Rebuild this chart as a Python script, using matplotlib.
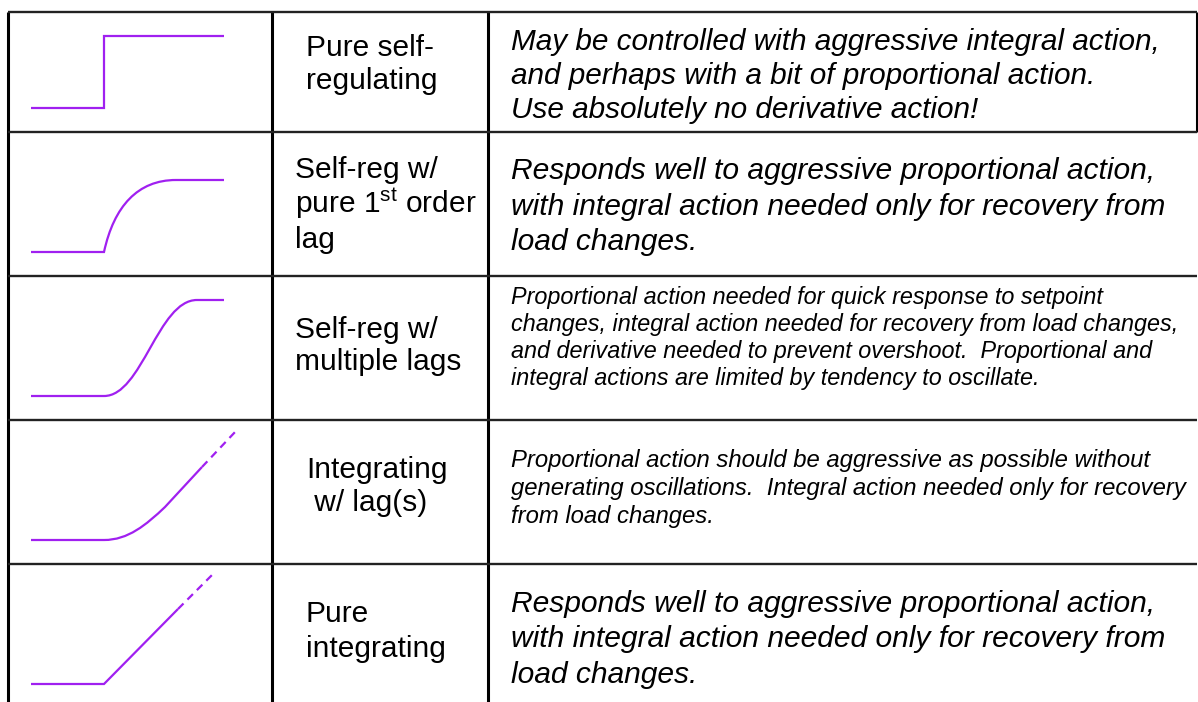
import matplotlib.pyplot as plt
from matplotlib.path import Path
from matplotlib.patches import PathPatch

plt.rcParams['font.family'] = ['Liberation Sans', 'DejaVu Sans']
plt.rcParams['mathtext.fontset'] = 'custom'
plt.rcParams['mathtext.rm'] = 'Liberation Sans'
plt.rcParams['mathtext.it'] = 'Liberation Sans:italic'

# --- table content ---
process_types = [
    ["Pure self-", "regulating"],
    ["Self-reg w/", "pure 1$^{\\mathrm{st}}$ order", "lag"],
    ["Self-reg w/", "multiple lags"],
    ["Integrating", " w/ lag(s)"],
    ["Pure", "integrating"],
]
advice = [
    ["May be controlled with aggressive integral action,",
     "and perhaps with a bit of proportional action.",
     "Use absolutely no derivative action!"],
    ["Responds well to aggressive proportional action,",
     "with integral action needed only for recovery from",
     "load changes."],
    ["Proportional action needed for quick response to setpoint",
     "changes, integral action needed for recovery from load changes,",
     "and derivative needed to prevent overshoot.  Proportional and",
     "integral actions are limited by tendency to oscillate."],
    ["Proportional action should be aggressive as possible without",
     "generating oscillations.  Integral action needed only for recovery",
     "from load changes."],
    ["Responds well to aggressive proportional action,",
     "with integral action needed only for recovery from",
     "load changes."],
]

# --- response sketches (solid part, dashed extension) ---
M, L, C = Path.MOVETO, Path.LINETO, Path.CURVE4
step_xy = [(31, 108), (104, 108), (104, 36), (224, 36)]
step_codes = [M, L, L, L]
lag1_xy = [(31, 252), (104, 252), (114, 206), (138, 180), (176, 180), (224, 180)]
lag1_codes = [M, L, C, C, C, L]
multilag_xy = [(31, 396), (104, 396), (142, 396), (158, 300), (197, 300), (224, 300)]
multilag_codes = [M, L, C, C, C, L]
integ_lag_xy = [(31, 540), (104, 540), (128, 540), (146, 525), (165, 507), (202, 467)]
integ_lag_codes = [M, L, C, C, C, L]
integ_lag_ext = [(202, 467), (236, 431)]
integ_xy = [(31, 684), (104, 684), (178, 609)]
integ_codes = [M, L, L]
integ_ext = [(178, 609), (212, 575)]

# --- layout ---
row_edges = [12, 132, 276, 420, 564]
col_edges = [8, 272, 488, 1197]
label_x = [306, 295, 295, 306, 306]
label_base = [[56, 89], [178, 213, 248], [338, 370], [478, 511], [622, 657]]
advice_base = [[50, 84, 118], [179, 215, 250], [304, 331, 358, 385],
               [467, 495, 523], [612, 647, 683]]
advice_size = [21.4, 21.6, 16.8, 17.2, 21.6]
purple = '#A020F0'

fig = plt.figure(figsize=(11.98, 7.02), dpi=100)
ax = fig.add_axes([0, 0, 1, 1])
ax.set_xlim(0, 1198)
ax.set_ylim(702, 0)
ax.axis('off')

# grid lines
ax.vlines(col_edges[:3], row_edges[0], 702, color='black', lw=2.2)
ax.vlines(col_edges[3], row_edges[0], row_edges[1], color='black', lw=2.2)
ax.hlines(row_edges, col_edges[0], col_edges[3], color='#222222', lw=1.7)

# sketches
for xy, codes in [(step_xy, step_codes), (lag1_xy, lag1_codes),
                  (multilag_xy, multilag_codes), (integ_lag_xy, integ_lag_codes),
                  (integ_xy, integ_codes)]:
    ax.add_patch(PathPatch(Path(xy, codes), fill=False, edgecolor=purple,
                           lw=1.6, capstyle='butt', joinstyle='miter'))
for ext in [integ_lag_ext, integ_ext]:
    xs, ys = zip(*ext)
    ax.plot(xs, ys, color=purple, lw=1.6, dashes=(3.5, 2.5))

# text
for i, lines in enumerate(process_types):
    for line, yb in zip(lines, label_base[i]):
        ax.text(label_x[i], yb, line, fontsize=21.5, ha='left', va='baseline')
for i, lines in enumerate(advice):
    for line, yb in zip(lines, advice_base[i]):
        ax.text(511, yb, line, fontsize=advice_size[i], style='italic',
                ha='left', va='baseline')

fig.savefig('out.png', dpi=100)
